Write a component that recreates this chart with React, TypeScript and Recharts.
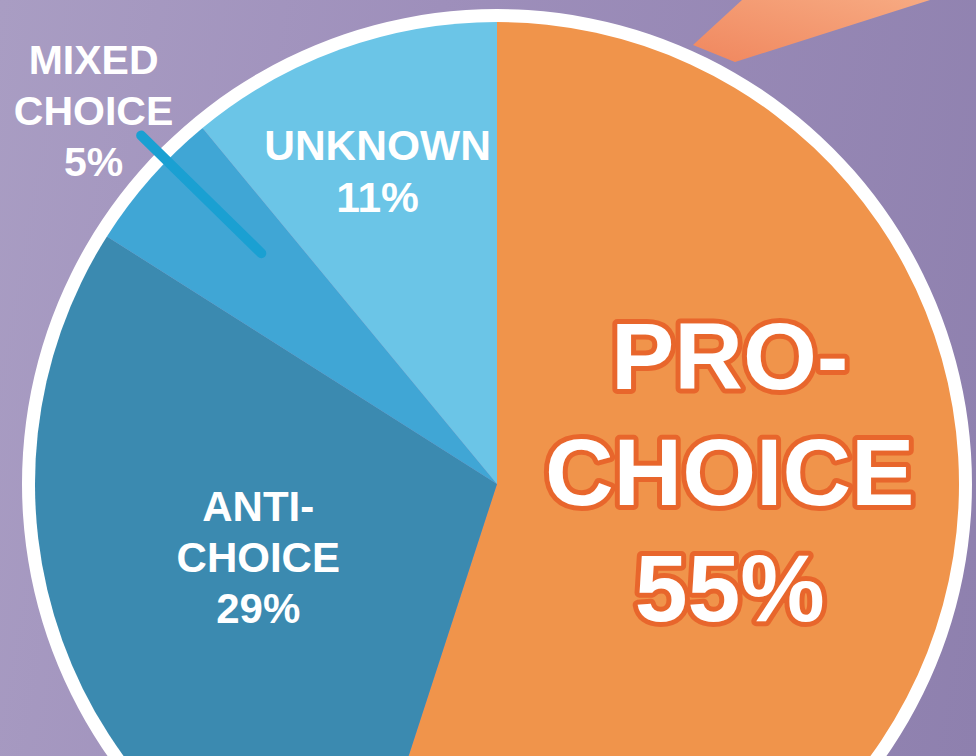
import React from 'react';
import { PieChart, Pie, Cell } from 'recharts';

// slice data, clockwise from 12 o'clock
const categories = ['PRO-CHOICE', 'ANTI-CHOICE', 'MIXED CHOICE', 'UNKNOWN'];
const shares = [55, 29, 5, 11];
const labelLines = [
  ['PRO-', 'CHOICE', '55%'],
  ['ANTI-', 'CHOICE', '29%'],
  ['MIXED', 'CHOICE', '5%'],
  ['UNKNOWN', '11%'],
];

const colors = ['#F0944B', '#3B8AB0', '#40A6D5', '#6BC5E7'];

// label placement (fraction of radius along the slice's mid angle, plus a nudge)
const labelLayout = [
  { radius: 0.51, shiftX: 0, shiftY: -50, fontSize: 95, lineHeight: 116, outline: true },
  { radius: 0.54, shiftX: -4, shiftY: -12, fontSize: 42, lineHeight: 51, outline: false },
  { radius: 1.19, shiftX: 9, shiftY: -10, fontSize: 41, lineHeight: 51, outline: false, leader: true },
  { radius: 0.725, shiftX: -6, shiftY: 2, fontSize: 42.5, lineHeight: 52, outline: false },
];

const data = categories.map((name, i) => ({ name, value: shares[i] }));
const ring = [{ name: 'ring', value: 1 }];

const WIDTH = 976;
const HEIGHT = 756;
const CX = 497;
const CY = 484;
const R = 462;
const RADIAN = Math.PI / 180;

const renderLabel = (props: any) => {
  const { cx, cy, midAngle, outerRadius, index } = props;
  const layout = labelLayout[index];
  const lines = labelLines[index];
  const r = outerRadius * layout.radius;
  const x = cx + r * Math.cos(-midAngle * RADIAN) + layout.shiftX;
  const yc = cy + r * Math.sin(-midAngle * RADIAN) + layout.shiftY;
  const cap = layout.fontSize * 0.716;
  const firstBase = yc - ((lines.length - 1) * layout.lineHeight) / 2 + cap / 2;

  let leader = null;
  if (layout.leader) {
    const p = (f: number) => ({
      x: cx + outerRadius * f * Math.cos(-(midAngle - 3) * RADIAN),
      y: cy + outerRadius * f * Math.sin(-(midAngle - 3) * RADIAN),
    });
    const a = p(0.714);
    const b = p(1.078);
    leader = (
      <line x1={a.x} y1={a.y} x2={b.x} y2={b.y} stroke="#1AA0D2" strokeWidth={10} strokeLinecap="round" />
    );
  }

  return (
    <g key={`label-${index}`}>
      {leader}
      <text
        x={x}
        y={firstBase}
        textAnchor="middle"
        fill="#FFFFFF"
        stroke={layout.outline ? '#E8662C' : 'none'}
        strokeWidth={layout.outline ? 10 : 0}
        strokeLinejoin="round"
        style={{
          paintOrder: 'stroke',
          fontFamily: '"Liberation Sans", Arial, Helvetica, sans-serif',
          fontWeight: 700,
          fontSize: layout.fontSize,
        }}
      >
        {lines.map((line, i) => (
          <tspan key={i} x={x} dy={i === 0 ? 0 : layout.lineHeight}>
            {line}
          </tspan>
        ))}
      </text>
    </g>
  );
};

export default function App() {
  return (
    <div
      style={{
        position: 'relative',
        width: WIDTH,
        height: HEIGHT,
        overflow: 'hidden',
        background: 'linear-gradient(100deg, #A99DC3 0%, #9E8FBB 40%, #8E80AE 100%)',
      }}
    >
      <style>{'body{margin:0;}'}</style>
      <svg width={WIDTH} height={HEIGHT} style={{ position: 'absolute', left: 0, top: 0 }}>
        <defs>
          <linearGradient id="ray" x1="0" y1="1" x2="1" y2="0">
            <stop offset="0%" stopColor="#F0875E" />
            <stop offset="100%" stopColor="#F7AA82" />
          </linearGradient>
        </defs>
        <polygon points="693,45 742,0 930,0 735,62" fill="url(#ray)" />
      </svg>
      <div style={{ position: 'absolute', left: 0, top: 0 }}>
        <PieChart width={WIDTH} height={HEIGHT} margin={{ top: 0, right: 0, bottom: 0, left: 0 }}>
          <Pie
            data={ring}
            dataKey="value"
            cx={CX}
            cy={CY}
            innerRadius={R - 1}
            outerRadius={R + 13}
            startAngle={90}
            endAngle={-270}
            fill="#FFFFFF"
            stroke="none"
            isAnimationActive={false}
          />
          <Pie
            data={data}
            dataKey="value"
            nameKey="name"
            cx={CX}
            cy={CY}
            outerRadius={R}
            startAngle={90}
            endAngle={-270}
            stroke="none"
            labelLine={false}
            label={renderLabel}
            isAnimationActive={false}
          >
            {data.map((entry, index) => (
              <Cell key={`cell-${index}`} fill={colors[index]} />
            ))}
          </Pie>
        </PieChart>
      </div>
    </div>
  );
}
